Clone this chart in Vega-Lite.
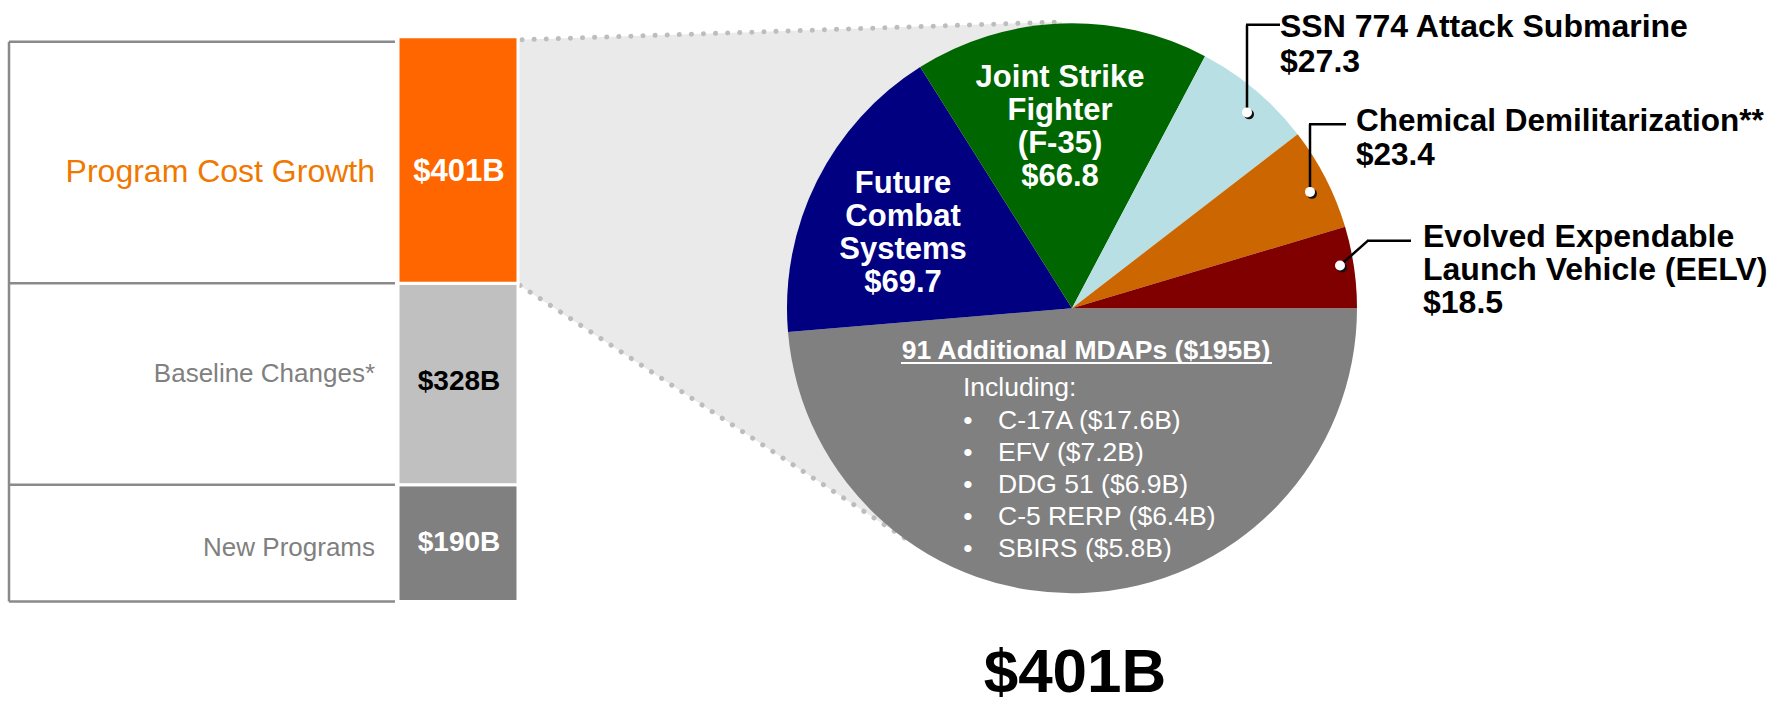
{
  "$schema": "https://vega.github.io/schema/vega-lite/v6.json",
  "width": 1773,
  "height": 705,
  "autosize": {"type": "fit", "contains": "padding"},
  "padding": 0,
  "background": "white",
  "config": {"view": {"stroke": null}, "text": {"font": "Liberation Sans"}},
  "datasets": {
    "bar": [
      {"category": "New Programs", "value": 190, "order": 1},
      {"category": "Baseline Changes*", "value": 328, "order": 2},
      {"category": "Program Cost Growth", "value": 401, "order": 3}
    ],
    "pie": [
      {"name": "91 Additional MDAPs", "value": 195, "order": 1},
      {"name": "Future Combat Systems", "value": 69.7, "order": 2},
      {"name": "Joint Strike Fighter (F-35)", "value": 66.8, "order": 3},
      {"name": "SSN 774 Attack Submarine", "value": 27.3, "order": 4},
      {"name": "Chemical Demilitarization**", "value": 23.4, "order": 5},
      {"name": "Evolved Expendable Launch Vehicle (EELV)", "value": 18.5, "order": 6}
    ]
  },
  "resolve": {"scale": {"color": "independent"}},
  "layer": [
    {
      "data": {"values": [{"x": 519, "top": 914, "bot": 515}, {"x": 912, "top": 935.2, "bot": 95.5}, {"x": 1062, "top": 943.3, "bot": 95.5}]},
      "mark": {"type": "area", "color": "#EAEAEA", "orient": "vertical", "interpolate": "linear"},
      "encoding": {
        "x": {"field": "x", "type": "quantitative", "scale": {"domain": [0, 1773], "nice": false, "zero": false}, "axis": null},
        "y": {"field": "top", "type": "quantitative", "scale": {"domain": [-161.8, 978.86], "nice": false, "zero": false}, "axis": null},
        "y2": {"field": "bot"}
      }
    },
    {
      "data": {"values": [{}]},
      "mark": {"type": "rule", "color": "#BDBDBD", "strokeWidth": 5, "strokeCap": "round", "strokeDash": [0.1, 12]},
      "encoding": {
        "x": {"datum": 522, "type": "quantitative", "scale": {"domain": [0, 1773], "nice": false, "zero": false}, "axis": null},
        "y": {"datum": 914.15, "type": "quantitative", "scale": {"domain": [-161.8, 978.86], "nice": false, "zero": false}, "axis": null},
        "x2": {"datum": 1062},
        "y2": {"datum": 943.27}
      }
    },
    {
      "data": {"values": [{}]},
      "mark": {"type": "rule", "color": "#BDBDBD", "strokeWidth": 5, "strokeCap": "round", "strokeDash": [0.1, 12]},
      "encoding": {
        "x": {"datum": 520, "type": "quantitative", "scale": {"domain": [0, 1773], "nice": false, "zero": false}, "axis": null},
        "y": {"datum": 514.5, "type": "quantitative", "scale": {"domain": [-161.8, 978.86], "nice": false, "zero": false}, "axis": null},
        "x2": {"datum": 912},
        "y2": {"datum": 95.5}
      }
    },
    {
      "data": {"name": "pie"},
      "mark": {"type": "arc", "outerRadius": 285},
      "encoding": {
        "x": {"datum": 1072, "type": "quantitative", "scale": {"domain": [0, 1773], "nice": false, "zero": false}, "axis": null},
        "y": {"datum": 477.3, "type": "quantitative", "scale": {"domain": [-161.8, 978.86], "nice": false, "zero": false}, "axis": null},
        "theta": {"field": "value", "type": "quantitative", "stack": true, "scale": {"range": [1.5707963, 7.8539816]}},
        "order": {"field": "order", "type": "quantitative"},
        "color": {
          "field": "name", "type": "nominal", "legend": null,
          "scale": {
            "domain": ["91 Additional MDAPs", "Future Combat Systems", "Joint Strike Fighter (F-35)", "SSN 774 Attack Submarine", "Chemical Demilitarization**", "Evolved Expendable Launch Vehicle (EELV)"],
            "range": ["#808080", "#000080", "#006600", "#B8E0E4", "#CC6600", "#800000"]
          }
        }
      }
    },
    {
      "data": {"name": "bar"},
      "transform": [{"stack": "value", "groupby": [], "sort": [{"field": "order", "order": "ascending"}], "as": ["v0", "v1"]}],
      "mark": {"type": "rect", "stroke": "white", "strokeWidth": 3},
      "encoding": {
        "x": {"datum": 398, "type": "quantitative", "scale": {"domain": [0, 1773], "nice": false, "zero": false}, "axis": null},
        "x2": {"datum": 518},
        "y": {"field": "v0", "type": "quantitative", "scale": {"domain": [-161.8, 978.86], "nice": false, "zero": false}, "axis": null},
        "y2": {"field": "v1"},
        "color": {
          "field": "category", "type": "nominal", "legend": null,
          "scale": {"domain": ["Program Cost Growth", "Baseline Changes*", "New Programs"], "range": ["#FF6600", "#C0C0C0", "#808080"]}
        }
      }
    },
    {
      "data": {"name": "bar"},
      "transform": [{"stack": "value", "groupby": [], "sort": [{"field": "order", "order": "ascending"}], "as": ["v0", "v1"]}],
      "mark": {"type": "rule", "color": "#8A8A8A", "strokeWidth": 2.5},
      "encoding": {
        "x": {"datum": 9, "type": "quantitative", "scale": {"domain": [0, 1773], "nice": false, "zero": false}, "axis": null},
        "x2": {"datum": 395},
        "y": {"field": "v0", "type": "quantitative", "scale": {"domain": [-161.8, 978.86], "nice": false, "zero": false}, "axis": null}
      }
    },
    {
      "data": {"values": [{}]},
      "mark": {"type": "rule", "color": "#8A8A8A", "strokeWidth": 2.5},
      "encoding": {
        "x": {"datum": 9, "type": "quantitative", "scale": {"domain": [0, 1773], "nice": false, "zero": false}, "axis": null},
        "x2": {"datum": 395},
        "y": {"datum": 910.9, "type": "quantitative", "scale": {"domain": [-161.8, 978.86], "nice": false, "zero": false}, "axis": null}
      }
    },
    {
      "data": {"values": [{}]},
      "mark": {"type": "rule", "color": "#8A8A8A", "strokeWidth": 2.5},
      "encoding": {
        "x": {"datum": 9, "type": "quantitative", "scale": {"domain": [0, 1773], "nice": false, "zero": false}, "axis": null},
        "y": {"datum": 910.9, "type": "quantitative", "scale": {"domain": [-161.8, 978.86], "nice": false, "zero": false}, "axis": null},
        "y2": {"datum": 0}
      }
    },
    {
      "data": {"values": [{}]},
      "mark": {"type": "text", "text": "Program Cost Growth", "align": "right", "baseline": "middle", "fontSize": 32, "color": "#F07800"},
      "encoding": {
        "x": {"datum": 375, "type": "quantitative", "scale": {"domain": [0, 1773], "nice": false, "zero": false}, "axis": null},
        "y": {"datum": 699.0, "type": "quantitative", "scale": {"domain": [-161.8, 978.86], "nice": false, "zero": false}, "axis": null}
      }
    },
    {
      "data": {"values": [{}]},
      "mark": {"type": "text", "text": "Baseline Changes*", "align": "right", "baseline": "middle", "fontSize": 26, "color": "#808080"},
      "encoding": {
        "x": {"datum": 375, "type": "quantitative", "scale": {"domain": [0, 1773], "nice": false, "zero": false}, "axis": null},
        "y": {"datum": 369.7, "type": "quantitative", "scale": {"domain": [-161.8, 978.86], "nice": false, "zero": false}, "axis": null}
      }
    },
    {
      "data": {"values": [{}]},
      "mark": {"type": "text", "text": "New Programs", "align": "right", "baseline": "middle", "fontSize": 26, "color": "#808080"},
      "encoding": {
        "x": {"datum": 375, "type": "quantitative", "scale": {"domain": [0, 1773], "nice": false, "zero": false}, "axis": null},
        "y": {"datum": 87.4, "type": "quantitative", "scale": {"domain": [-161.8, 978.86], "nice": false, "zero": false}, "axis": null}
      }
    },
    {
      "data": {"values": [{}]},
      "mark": {"type": "text", "text": "$401B", "align": "center", "baseline": "middle", "fontSize": 31, "fontWeight": "bold", "color": "white"},
      "encoding": {
        "x": {"datum": 459, "type": "quantitative", "scale": {"domain": [0, 1773], "nice": false, "zero": false}, "axis": null},
        "y": {"datum": 699.0, "type": "quantitative", "scale": {"domain": [-161.8, 978.86], "nice": false, "zero": false}, "axis": null}
      }
    },
    {
      "data": {"values": [{}]},
      "mark": {"type": "text", "text": "$328B", "align": "center", "baseline": "middle", "fontSize": 28, "fontWeight": "bold", "color": "black"},
      "encoding": {
        "x": {"datum": 459, "type": "quantitative", "scale": {"domain": [0, 1773], "nice": false, "zero": false}, "axis": null},
        "y": {"datum": 356.9, "type": "quantitative", "scale": {"domain": [-161.8, 978.86], "nice": false, "zero": false}, "axis": null}
      }
    },
    {
      "data": {"values": [{}]},
      "mark": {"type": "text", "text": "$190B", "align": "center", "baseline": "middle", "fontSize": 28, "fontWeight": "bold", "color": "white"},
      "encoding": {
        "x": {"datum": 459, "type": "quantitative", "scale": {"domain": [0, 1773], "nice": false, "zero": false}, "axis": null},
        "y": {"datum": 95.5, "type": "quantitative", "scale": {"domain": [-161.8, 978.86], "nice": false, "zero": false}, "axis": null}
      }
    },
    {
      "data": {"values": [{}]},
      "mark": {"type": "text", "text": ["Future", "Combat", "Systems", "$69.7"], "align": "center", "baseline": "middle", "fontSize": 31, "lineHeight": 33, "fontWeight": "bold", "color": "white"},
      "encoding": {
        "x": {"datum": 903, "type": "quantitative", "scale": {"domain": [0, 1773], "nice": false, "zero": false}, "axis": null},
        "y": {"datum": 679.6, "type": "quantitative", "scale": {"domain": [-161.8, 978.86], "nice": false, "zero": false}, "axis": null}
      }
    },
    {
      "data": {"values": [{}]},
      "mark": {"type": "text", "text": ["Joint Strike", "Fighter", "(F-35)", "$66.8"], "align": "center", "baseline": "middle", "fontSize": 31, "lineHeight": 33, "fontWeight": "bold", "color": "white"},
      "encoding": {
        "x": {"datum": 1060, "type": "quantitative", "scale": {"domain": [0, 1773], "nice": false, "zero": false}, "axis": null},
        "y": {"datum": 852.7, "type": "quantitative", "scale": {"domain": [-161.8, 978.86], "nice": false, "zero": false}, "axis": null}
      }
    },
    {
      "data": {"values": [{}]},
      "mark": {"type": "text", "text": ["SSN 774 Attack Submarine", "$27.3"], "align": "left", "baseline": "middle", "fontSize": 32, "lineHeight": 35, "fontWeight": "bold", "color": "black"},
      "encoding": {
        "x": {"datum": 1280, "type": "quantitative", "scale": {"domain": [0, 1773], "nice": false, "zero": false}, "axis": null},
        "y": {"datum": 935.2, "type": "quantitative", "scale": {"domain": [-161.8, 978.86], "nice": false, "zero": false}, "axis": null}
      }
    },
    {
      "data": {"values": [{}]},
      "mark": {"type": "text", "text": ["Chemical Demilitarization**", "$23.4"], "align": "left", "baseline": "middle", "fontSize": 31.5, "lineHeight": 34, "fontWeight": "bold", "color": "black"},
      "encoding": {
        "x": {"datum": 1356, "type": "quantitative", "scale": {"domain": [0, 1773], "nice": false, "zero": false}, "axis": null},
        "y": {"datum": 779.9, "type": "quantitative", "scale": {"domain": [-161.8, 978.86], "nice": false, "zero": false}, "axis": null}
      }
    },
    {
      "data": {"values": [{}]},
      "mark": {"type": "text", "text": ["Evolved Expendable", "Launch Vehicle (EELV)", "$18.5"], "align": "left", "baseline": "middle", "fontSize": 32, "lineHeight": 33, "fontWeight": "bold", "color": "black"},
      "encoding": {
        "x": {"datum": 1423, "type": "quantitative", "scale": {"domain": [0, 1773], "nice": false, "zero": false}, "axis": null},
        "y": {"datum": 593.8, "type": "quantitative", "scale": {"domain": [-161.8, 978.86], "nice": false, "zero": false}, "axis": null}
      }
    },
    {
      "data": {"values": [{}]},
      "mark": {"type": "text", "text": "91 Additional MDAPs ($195B)", "align": "center", "baseline": "middle", "fontSize": 26.5, "fontWeight": "bold", "color": "white"},
      "encoding": {
        "x": {"datum": 1086, "type": "quantitative", "scale": {"domain": [0, 1773], "nice": false, "zero": false}, "axis": null},
        "y": {"datum": 407.7, "type": "quantitative", "scale": {"domain": [-161.8, 978.86], "nice": false, "zero": false}, "axis": null}
      }
    },
    {
      "data": {"values": [{}]},
      "mark": {"type": "rule", "color": "white", "strokeWidth": 2},
      "encoding": {
        "x": {"datum": 901, "type": "quantitative", "scale": {"domain": [0, 1773], "nice": false, "zero": false}, "axis": null},
        "x2": {"datum": 1272},
        "y": {"datum": 388.3, "type": "quantitative", "scale": {"domain": [-161.8, 978.86], "nice": false, "zero": false}, "axis": null}
      }
    },
    {
      "data": {"values": [{}]},
      "mark": {"type": "text", "text": "Including:", "align": "left", "baseline": "middle", "fontSize": 26.5, "color": "white"},
      "encoding": {
        "x": {"datum": 963, "type": "quantitative", "scale": {"domain": [0, 1773], "nice": false, "zero": false}, "axis": null},
        "y": {"datum": 347.9, "type": "quantitative", "scale": {"domain": [-161.8, 978.86], "nice": false, "zero": false}, "axis": null}
      }
    },
    {
      "data": {"values": [{}]},
      "mark": {"type": "text", "text": ["•", "•", "•", "•", "•"], "align": "center", "baseline": "middle", "fontSize": 26.5, "lineHeight": 32, "color": "white"},
      "encoding": {
        "x": {"datum": 968, "type": "quantitative", "scale": {"domain": [0, 1773], "nice": false, "zero": false}, "axis": null},
        "y": {"datum": 294.5, "type": "quantitative", "scale": {"domain": [-161.8, 978.86], "nice": false, "zero": false}, "axis": null}
      }
    },
    {
      "data": {"values": [{}]},
      "mark": {"type": "text", "text": ["C-17A ($17.6B)", "EFV ($7.2B)", "DDG 51 ($6.9B)", "C-5 RERP ($6.4B)", "SBIRS ($5.8B)"], "align": "left", "baseline": "middle", "fontSize": 26.5, "lineHeight": 32, "color": "white"},
      "encoding": {
        "x": {"datum": 998, "type": "quantitative", "scale": {"domain": [0, 1773], "nice": false, "zero": false}, "axis": null},
        "y": {"datum": 294.5, "type": "quantitative", "scale": {"domain": [-161.8, 978.86], "nice": false, "zero": false}, "axis": null}
      }
    },
    {
      "data": {"values": [{}]},
      "mark": {"type": "text", "text": "$401B", "align": "center", "baseline": "middle", "fontSize": 62, "fontWeight": "bold", "color": "black"},
      "encoding": {
        "x": {"datum": 1075, "type": "quantitative", "scale": {"domain": [0, 1773], "nice": false, "zero": false}, "axis": null},
        "y": {"datum": -116.5, "type": "quantitative", "scale": {"domain": [-161.8, 978.86], "nice": false, "zero": false}, "axis": null}
      }
    },
    {
      "data": {"values": [{}]},
      "mark": {"type": "rule", "color": "black", "strokeWidth": 2.5},
      "encoding": {
        "x": {"datum": 1247, "type": "quantitative", "scale": {"domain": [0, 1773], "nice": false, "zero": false}, "axis": null},
        "y": {"datum": 796.0, "type": "quantitative", "scale": {"domain": [-161.8, 978.86], "nice": false, "zero": false}, "axis": null},
        "y2": {"datum": 938.4}
      }
    },
    {
      "data": {"values": [{}]},
      "mark": {"type": "rule", "color": "black", "strokeWidth": 2.5},
      "encoding": {
        "x": {"datum": 1246, "type": "quantitative", "scale": {"domain": [0, 1773], "nice": false, "zero": false}, "axis": null},
        "x2": {"datum": 1280},
        "y": {"datum": 938.4, "type": "quantitative", "scale": {"domain": [-161.8, 978.86], "nice": false, "zero": false}, "axis": null}
      }
    },
    {
      "data": {"values": [{}]},
      "mark": {"type": "rule", "color": "black", "strokeWidth": 2.5},
      "encoding": {
        "x": {"datum": 1310, "type": "quantitative", "scale": {"domain": [0, 1773], "nice": false, "zero": false}, "axis": null},
        "y": {"datum": 666.6, "type": "quantitative", "scale": {"domain": [-161.8, 978.86], "nice": false, "zero": false}, "axis": null},
        "y2": {"datum": 776.6}
      }
    },
    {
      "data": {"values": [{}]},
      "mark": {"type": "rule", "color": "black", "strokeWidth": 2.5},
      "encoding": {
        "x": {"datum": 1309, "type": "quantitative", "scale": {"domain": [0, 1773], "nice": false, "zero": false}, "axis": null},
        "x2": {"datum": 1346},
        "y": {"datum": 776.6, "type": "quantitative", "scale": {"domain": [-161.8, 978.86], "nice": false, "zero": false}, "axis": null}
      }
    },
    {
      "data": {"values": [{}]},
      "mark": {"type": "rule", "color": "black", "strokeWidth": 2.5},
      "encoding": {
        "x": {"datum": 1340, "type": "quantitative", "scale": {"domain": [0, 1773], "nice": false, "zero": false}, "axis": null},
        "y": {"datum": 546.9, "type": "quantitative", "scale": {"domain": [-161.8, 978.86], "nice": false, "zero": false}, "axis": null},
        "x2": {"datum": 1368},
        "y2": {"datum": 587.3}
      }
    },
    {
      "data": {"values": [{}]},
      "mark": {"type": "rule", "color": "black", "strokeWidth": 2.5},
      "encoding": {
        "x": {"datum": 1367, "type": "quantitative", "scale": {"domain": [0, 1773], "nice": false, "zero": false}, "axis": null},
        "x2": {"datum": 1411},
        "y": {"datum": 587.3, "type": "quantitative", "scale": {"domain": [-161.8, 978.86], "nice": false, "zero": false}, "axis": null}
      }
    },
    {
      "data": {"values": [{}]},
      "mark": {"type": "point", "shape": "circle", "filled": true, "size": 100, "color": "#111111", "opacity": 1},
      "encoding": {
        "x": {"datum": 1249, "type": "quantitative", "scale": {"domain": [0, 1773], "nice": false, "zero": false}, "axis": null},
        "y": {"datum": 792.8, "type": "quantitative", "scale": {"domain": [-161.8, 978.86], "nice": false, "zero": false}, "axis": null}
      }
    },
    {
      "data": {"values": [{}]},
      "mark": {"type": "point", "shape": "circle", "filled": true, "size": 100, "color": "white", "opacity": 1},
      "encoding": {
        "x": {"datum": 1247, "type": "quantitative", "scale": {"domain": [0, 1773], "nice": false, "zero": false}, "axis": null},
        "y": {"datum": 796.0, "type": "quantitative", "scale": {"domain": [-161.8, 978.86], "nice": false, "zero": false}, "axis": null}
      }
    },
    {
      "data": {"values": [{}]},
      "mark": {"type": "point", "shape": "circle", "filled": true, "size": 100, "color": "#111111", "opacity": 1},
      "encoding": {
        "x": {"datum": 1312, "type": "quantitative", "scale": {"domain": [0, 1773], "nice": false, "zero": false}, "axis": null},
        "y": {"datum": 663.4, "type": "quantitative", "scale": {"domain": [-161.8, 978.86], "nice": false, "zero": false}, "axis": null}
      }
    },
    {
      "data": {"values": [{}]},
      "mark": {"type": "point", "shape": "circle", "filled": true, "size": 100, "color": "white", "opacity": 1},
      "encoding": {
        "x": {"datum": 1310, "type": "quantitative", "scale": {"domain": [0, 1773], "nice": false, "zero": false}, "axis": null},
        "y": {"datum": 666.6, "type": "quantitative", "scale": {"domain": [-161.8, 978.86], "nice": false, "zero": false}, "axis": null}
      }
    },
    {
      "data": {"values": [{}]},
      "mark": {"type": "point", "shape": "circle", "filled": true, "size": 100, "color": "#111111", "opacity": 1},
      "encoding": {
        "x": {"datum": 1342, "type": "quantitative", "scale": {"domain": [0, 1773], "nice": false, "zero": false}, "axis": null},
        "y": {"datum": 543.6, "type": "quantitative", "scale": {"domain": [-161.8, 978.86], "nice": false, "zero": false}, "axis": null}
      }
    },
    {
      "data": {"values": [{}]},
      "mark": {"type": "point", "shape": "circle", "filled": true, "size": 100, "color": "white", "opacity": 1},
      "encoding": {
        "x": {"datum": 1340, "type": "quantitative", "scale": {"domain": [0, 1773], "nice": false, "zero": false}, "axis": null},
        "y": {"datum": 546.9, "type": "quantitative", "scale": {"domain": [-161.8, 978.86], "nice": false, "zero": false}, "axis": null}
      }
    }
  ]
}
